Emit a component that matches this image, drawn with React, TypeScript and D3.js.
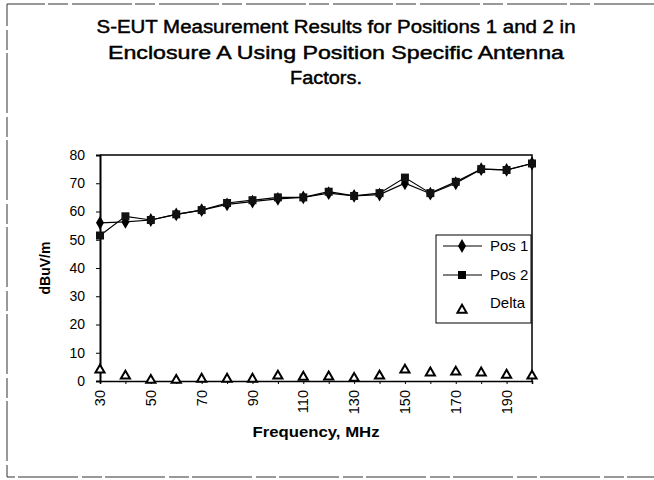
import React, { useEffect, useRef } from 'react';
import * as d3 from 'd3';

const freqs = [30, 40, 50, 60, 70, 80, 90, 100, 110, 120, 130, 140, 150, 160, 170, 180, 190, 200];
const pos1 = [56, 56.3, 57, 59, 60.5, 62.5, 63.5, 64.5, 65, 66.5, 65.5, 66, 70, 66.3, 70, 75, 74.7, 77];
const pos2 = [51.5, 58.3, 57, 59, 60.5, 63, 64, 65, 65, 67, 65.5, 66.5, 72, 66.5, 70.5, 75, 74.7, 77];
const delta = [3.9, 1.8, 0.3, 0.3, 0.7, 0.7, 0.7, 1.8, 1.4, 1.5, 1, 1.8, 3.9, 2.9, 3.2, 2.9, 2.1, 1.8];
const yTicks = [0, 10, 20, 30, 40, 50, 60, 70, 80];
const xLabels = [30, 50, 70, 90, 110, 130, 150, 170, 190];
const titleLines = [
  'S-EUT Measurement Results for Positions 1 and 2 in',
  'Enclosure A Using Position Specific Antenna',
  'Factors.',
];

const FONT = '"Liberation Sans", Arial, sans-serif';

const App = () => {
  const ref = useRef<SVGSVGElement>(null);

  useEffect(() => {
    const svg = d3.select(ref.current);
    svg.selectAll('*').remove();

    // outer frame (scanned, right side cut off)
    svg
      .append('path')
      .attr('d', 'M654,4H7V477H654')
      .attr('fill', 'none')
      .attr('stroke', '#333')
      .attr('stroke-width', 1)
      .attr('stroke-dasharray', '60 4 20 3');

    // title
    const widths = [479, 456, 72];
    svg
      .append('text')
      .attr('font-family', FONT)
      .attr('font-size', 18)
      .attr('text-anchor', 'middle')
      .attr('stroke', '#000')
      .attr('stroke-width', 0.45)
      .selectAll('tspan')
      .data(titleLines)
      .enter()
      .append('tspan')
      .attr('x', (d, i) => (i === 2 ? 326 : 336))
      .attr('y', (d, i) => 33 + i * 25.5)
      .attr('textLength', (d, i) => widths[i])
      .attr('lengthAdjust', 'spacingAndGlyphs')
      .text((d) => d);

    const x = d3.scalePoint<number>().domain(freqs).range([100, 532]);
    const y = d3.scaleLinear().domain([0, 80]).range([381, 155]);

    // plot frame (top / right)
    svg
      .append('path')
      .attr('d', `M${x(30)},${y(80)}H${x(200)}V${y(0)}`)
      .attr('fill', 'none')
      .attr('stroke', '#000')
      .attr('stroke-width', 1.5);

    // Y axis
    const yAxis = svg
      .append('g')
      .attr('transform', `translate(${x(30)},0)`)
      .call(d3.axisLeft(y).tickValues(yTicks).tickSize(4).tickPadding(11));
    yAxis.select('.domain').attr('stroke-width', 2);
    yAxis.selectAll('text').attr('font-family', FONT).attr('font-size', 14).attr('fill', '#000');

    // X axis
    const xAxis = svg
      .append('g')
      .attr('transform', `translate(0,${y(0)})`)
      .call(d3.axisBottom(x).tickValues(freqs).tickSize(3).tickFormat(() => ''));
    xAxis.select('.domain').attr('stroke-width', 1.5);

    svg
      .append('g')
      .selectAll('text')
      .data(xLabels)
      .enter()
      .append('text')
      .attr('font-family', FONT)
      .attr('font-size', 14.5)
      .attr('text-anchor', 'end')
      .attr('dy', '0.35em')
      .attr('transform', (d) => `translate(${x(d)},${y(0) + 9}) rotate(-90)`)
      .text((d) => d);

    // axis titles
    svg
      .append('text')
      .attr('font-family', FONT)
      .attr('font-size', 14)
      .attr('font-weight', 'bold')
      .attr('text-anchor', 'middle')
      .attr('transform', `translate(50,268) rotate(-90)`)
      .text('dBuV/m');

    svg
      .append('text')
      .attr('font-family', FONT)
      .attr('font-size', 15)
      .attr('font-weight', 'bold')
      .attr('text-anchor', 'middle')
      .attr('x', 316)
      .attr('y', 437)
      .attr('textLength', 127)
      .attr('lengthAdjust', 'spacingAndGlyphs')
      .text('Frequency, MHz');

    const line = d3
      .line<number>()
      .x((d, i) => x(freqs[i]) as number)
      .y((d) => y(d));

    svg.append('path').datum(pos2).attr('fill', 'none').attr('stroke', '#000').attr('stroke-width', 1.2).attr('d', line);
    svg.append('path').datum(pos1).attr('fill', 'none').attr('stroke', '#000').attr('stroke-width', 1.2).attr('d', line);

    const diamond = d3.symbol(d3.symbolDiamond, 55);
    const square = d3.symbol(d3.symbolSquare, 64);
    const triangle = d3.symbol(d3.symbolTriangle, 36);

    svg
      .append('g')
      .selectAll('path')
      .data(pos1)
      .enter()
      .append('path')
      .attr('d', diamond)
      .attr('transform', (d, i) => `translate(${x(freqs[i])},${y(d)})`)
      .attr('fill', '#000');

    svg
      .append('g')
      .selectAll('path')
      .data(pos2)
      .enter()
      .append('path')
      .attr('d', square)
      .attr('transform', (d, i) => `translate(${x(freqs[i])},${y(d)})`)
      .attr('fill', '#111');

    svg
      .append('g')
      .selectAll('path')
      .data(delta)
      .enter()
      .append('path')
      .attr('d', triangle)
      .attr('transform', (d, i) => `translate(${x(freqs[i])},${y(d)})`)
      .attr('fill', '#fff')
      .attr('stroke', '#000')
      .attr('stroke-width', 2);

    // legend
    const lg = svg.append('g').attr('transform', 'translate(436,235)');
    lg.append('rect')
      .attr('width', 95)
      .attr('height', 88)
      .attr('fill', '#fff')
      .attr('stroke', '#000')
      .attr('stroke-width', 1);

    const rows = [
      { name: 'Pos 1', sym: diamond, line: true, y: 11 },
      { name: 'Pos 2', sym: square, line: true, y: 40 },
      { name: 'Delta', sym: triangle, line: false, y: 68 },
    ];
    rows.forEach((r) => {
      if (r.line) {
        lg.append('line')
          .attr('x1', 7)
          .attr('x2', 46)
          .attr('y1', r.y)
          .attr('y2', r.y)
          .attr('stroke', '#000')
          .attr('stroke-width', 1.2);
      }
      lg.append('path')
        .attr('d', r.sym)
        .attr('transform', `translate(26,${r.line ? r.y : r.y + 7})`)
        .attr('fill', r.line ? '#000' : '#fff')
        .attr('stroke', r.line ? 'none' : '#000')
        .attr('stroke-width', 2);
      lg.append('text')
        .attr('x', 54)
        .attr('y', r.y)
        .attr('dy', '0.35em')
        .attr('font-family', FONT)
        .attr('font-size', 15)
        .text(r.name);
    });
  }, []);

  return (
    <svg
      ref={ref}
      width={654}
      height={480}
      style={{ position: 'absolute', left: 0, top: 0, background: '#fff' }}
    />
  );
};

export default App;
